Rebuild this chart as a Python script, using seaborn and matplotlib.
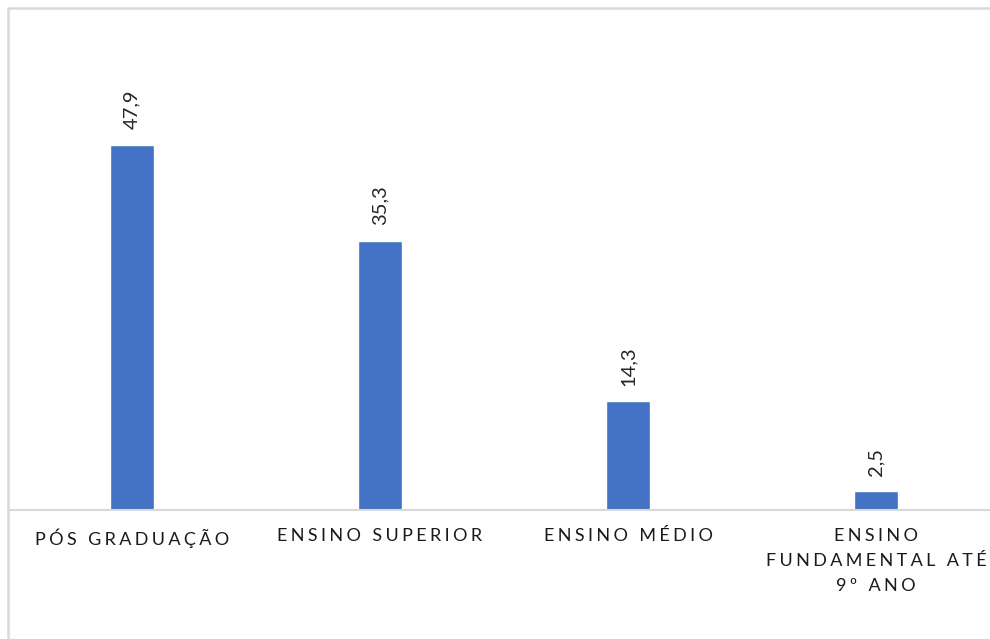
import matplotlib
matplotlib.use("Agg")
import matplotlib.pyplot as plt
import seaborn as sns
import pandas as pd
from matplotlib.lines import Line2D

categories = ["PÓS GRADUAÇÃO", "ENSINO SUPERIOR", "ENSINO MÉDIO", "ENSINO\nFUNDAMENTAL ATÉ\n9º ANO"]
values = [47.9, 35.3, 14.3, 2.5]
value_labels = ["47,9", "35,3", "14,3", "2,5"]

sns.set_style("white")
plt.rcParams["font.family"] = ["Lato", "DejaVu Sans"]

W, H = 990, 639
fig = plt.figure(figsize=(W / 100, H / 100), dpi=100)
# axes spans x 8..1000 px, y 8..510 px (right part cut off like the original)
ax = fig.add_axes([8 / W, (H - 510) / H, 992 / W, 502 / H])

df = pd.DataFrame({"cat": categories, "val": values})
sns.barplot(data=df, x="cat", y="val", color="#4472C4", width=0.18,
            saturation=1, ax=ax)
ax.set_ylim(0, 65.8)
ax.set_xlim(-0.5, 3.5)

ax.bar_label(ax.containers[0], labels=value_labels, rotation=90, padding=11,
             fontsize=14.5, color="#262626")


def spaced(s):
    # imitate the wide letter spacing of the original labels
    return "\n".join("\u2009\u200a".join(line) for line in s.split("\n"))


ax.set_xticks(range(len(categories)))
ax.set_xticklabels([spaced(c) for c in categories], fontsize=13,
                   color="#1a1a1a", linespacing=1.7)
ax.tick_params(axis="x", length=0, pad=13)
ax.set_yticks([])
ax.set_xlabel("")
ax.set_ylabel("")
for s in ["left", "right", "top"]:
    ax.spines[s].set_visible(False)
ax.spines["bottom"].set_color("#D9D9D9")
ax.spines["bottom"].set_linewidth(1.5)

# outer chart frame (light grey): only top and left edges are inside the image
x0 = 8 / W
y0 = 1 - 8 / H
fig.lines.append(Line2D([x0, x0, 1.0], [0.0, y0, y0], transform=fig.transFigure,
                        color="#D9D9D9", linewidth=1.8))

fig.savefig("out.png", dpi=100)
